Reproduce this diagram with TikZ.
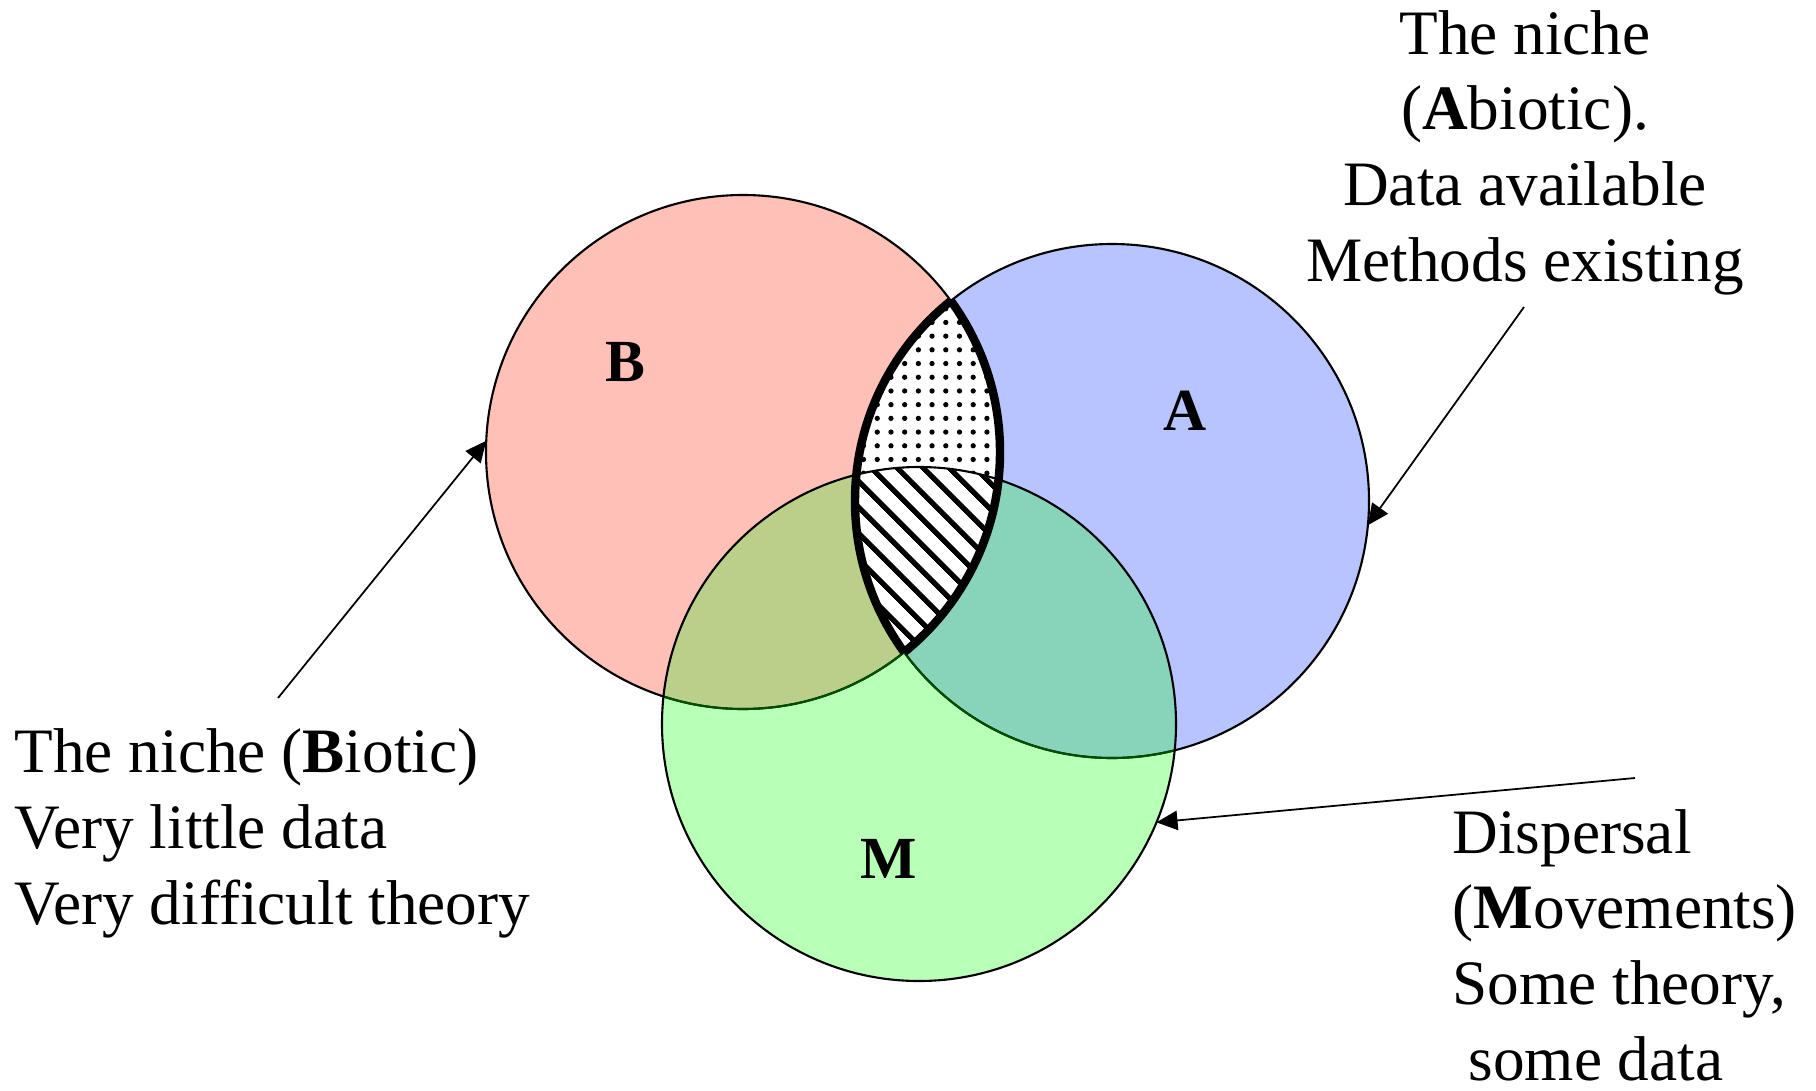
\documentclass[tikz,border=0pt]{standalone}
\usepackage{fontspec}
\setmainfont{Liberation Serif}
\usetikzlibrary{calc,patterns.meta,arrows.meta}
\definecolor{bioticred}{RGB}{255,192,184}
\definecolor{abioticblue}{RGB}{184,196,255}
\definecolor{movegreen}{RGB}{184,255,184}
\definecolor{bmolive}{RGB}{186,208,138}
\definecolor{amteal}{RGB}{136,212,186}
\definecolor{ringgreen}{RGB}{0,80,0}
\begin{document}
\begin{tikzpicture}[every node/.style={font=\fontsize{18}{21.5}\selectfont,inner sep=0pt},
    letter/.style={font=\fontsize{17}{20}\selectfont\bfseries},
    ring/.style={line width=0.6pt},
    lens/.style={line width=2.4pt},
    pointer/.style={-{Triangle[length=6pt,width=5.5pt]},line width=0.5pt}]
  \useasboundingbox(0,0)rectangle(18.16,10.90);
  \def\r{2.57}
  \coordinate(B)at(7.43,6.38);\coordinate(A)at(11.12,5.89);\coordinate(M)at(9.19,3.66);
  % the three sets
  \foreach \c/\col in{B/bioticred,A/abioticblue,M/movegreen}{\fill[\col](\c)circle(\r);}
  \begin{scope}\clip(M)circle(\r);
    \fill[bmolive](B)circle(\r);\fill[amteal](A)circle(\r);
  \end{scope}
  % B and A, then B, A and M
  \begin{scope}\clip(B)circle(\r);
    \fill[white,postaction={pattern={Dots[distance=3.9pt,radius=0.75pt]}}](A)circle(\r);
    \clip(A)circle(\r);
    \fill[white,postaction={pattern={Lines[angle=-45,distance=5.4pt,line width=1.6pt]}}](M)circle(\r);
  \end{scope}
  \foreach \c in{B,A}{\draw[ring](\c)circle(\r);}
  \begin{scope}\clip(M)circle(\r);
    \foreach \c in{B,A}{\draw[ring,ringgreen](\c)circle(\r);}
  \end{scope}
  \draw[ring](M)circle(\r);
  \begin{scope}\clip(B)circle(\r);\draw[lens](A)circle(\r);\end{scope}
  \begin{scope}\clip(A)circle(\r);\draw[lens](B)circle(\r);\end{scope}
  \node[letter](labB)at(6.25,7.28){B};
  \node[letter](labA)at(11.85,6.79){A};
  \node[letter](labM)at(8.89,2.31){M};
  % texts and pointers
  \node[anchor=base,align=center](abiotic)at(15.25,8.09){The niche\\(\textbf{A}biotic).\\Data available\\Methods existing};
  \node[anchor=base west,align=left](biotic)at(0.14,1.66){The niche (\textbf{B}iotic)\\Very little data\\Very difficult theory};
  \node[anchor=base west,align=left](move)at(14.52,0.10){Dispersal\\(\textbf{M}ovements)\\Some theory,\\\hspace*{0.25em}some data};
  \coordinate(tailB)at(2.78,3.92);\coordinate(tipB)at($(B)+(177.5:\r)$);
  \coordinate(tailA)at(15.24,7.83);\coordinate(tipA)at($(A)+(-5.4:\r)$);
  \coordinate(tailM)at(16.35,3.12);\coordinate(tipM)at($(M)+(-22.5:\r)$);
  \foreach \s in{B,A,M}{\draw[pointer](tail\s)--(tip\s);}
\end{tikzpicture}
\end{document}
